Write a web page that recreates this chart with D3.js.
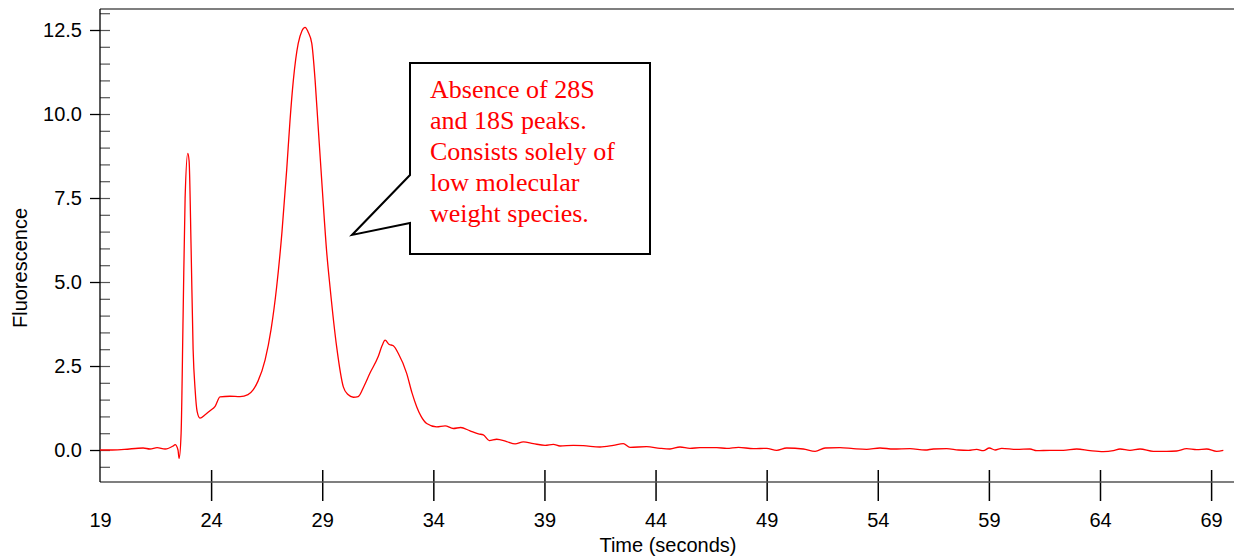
<!DOCTYPE html>
<html>
<head>
<meta charset="utf-8">
<script src="https://cdn.jsdelivr.net/npm/d3@7"></script>
<style>
    body { margin: 0; background: #fff; }
    svg { display: block; }
    .tick text { font-family: "Liberation Sans", Arial, sans-serif; font-size: 20px; fill: #000; }
    .axis-title { font-family: "Liberation Sans", Arial, sans-serif; font-size: 20px; fill: #000; }
    .note { font-family: "Liberation Serif", "Times New Roman", serif; font-size: 26px; fill: #ff0000; }
</style>
</head>
<body>
<div id="chart"></div>
<script>
// electropherogram trace
var time = [19.0, 19.45, 20.1, 20.94, 21.25, 21.57, 21.93, 22.29, 22.38, 22.51, 22.56, 22.65, 22.74, 22.83, 22.95, 23.01, 23.1, 23.19, 23.28, 23.37,
    23.5, 23.73, 23.95, 24.18, 24.4, 24.85, 25.3, 25.66, 25.89, 26.11, 26.43, 26.7, 26.95, 27.19, 27.4, 27.55, 27.7, 27.92, 28.09, 28.23,
    28.36, 28.53, 28.68, 28.8, 29.0, 29.2, 29.35, 29.65, 29.95, 30.16, 30.4, 30.62, 30.88, 31.15, 31.52, 31.69, 31.83, 32.0, 32.2, 32.42,
    32.8, 33.04, 33.25, 33.45, 33.7, 34.15, 34.53, 34.9, 35.23, 35.65, 36.03, 36.25, 36.52, 36.85, 37.3, 37.68, 38.05, 38.5, 39.03, 39.4,
    39.7, 40.3, 40.75, 41.5, 42.1, 42.55, 42.85, 43.6, 44.2, 44.65, 45.1, 45.55, 46.0, 46.75, 47.2, 47.73, 48.4, 49.0, 49.45, 49.9,
    50.65, 51.18, 51.63, 52.3, 52.9, 53.5, 54.1, 54.7, 55.45, 56.13, 56.5, 57.1, 57.63, 58.08, 58.45, 58.75, 59.02, 59.28, 59.58, 60.25,
    60.85, 61.15, 61.75, 62.35, 62.95, 63.55, 64.15, 64.6, 64.9, 65.35, 65.8, 66.4, 67.0, 67.45, 67.9, 68.35, 68.8, 69.25, 69.55];
var fluorescence = [0.0, 0.0, 0.02, 0.06, 0.03, 0.07, 0.03, 0.12, 0.16, 0.0, -0.25, 0.5, 4.0, 7.5, 8.83, 8.6, 6.0, 3.0, 1.8, 1.15,
    0.95, 1.05, 1.17, 1.3, 1.58, 1.6, 1.59, 1.65, 1.79, 2.05, 2.68, 3.6, 4.86, 6.5, 8.33, 9.8, 11.0, 12.1, 12.48, 12.58,
    12.45, 12.1, 11.0, 9.8, 7.8, 5.9, 4.86, 3.07, 1.88, 1.65, 1.57, 1.59, 1.9, 2.29, 2.78, 3.1, 3.27, 3.15, 3.1, 2.88,
    2.28, 1.7, 1.29, 1.0, 0.79, 0.69, 0.72, 0.64, 0.67, 0.57, 0.48, 0.45, 0.28, 0.32, 0.25, 0.18, 0.24, 0.19, 0.14, 0.17,
    0.12, 0.14, 0.13, 0.09, 0.14, 0.19, 0.08, 0.1, 0.05, 0.03, 0.09, 0.05, 0.07, 0.07, 0.05, 0.08, 0.04, 0.05, -0.01, 0.06,
    0.03, -0.04, 0.06, 0.07, 0.04, 0.02, 0.06, 0.03, 0.04, 0.0, 0.03, 0.04, 0.0, -0.01, 0.02, -0.02, 0.06, 0.0, 0.05, 0.02,
    0.03, -0.02, -0.01, -0.01, 0.03, -0.02, -0.05, -0.02, 0.03, -0.01, 0.03, -0.04, -0.04, -0.03, 0.04, 0.01, 0.03, -0.04, -0.01];

var xTicks = [19, 24, 29, 34, 39, 44, 49, 54, 59, 64, 69];
var yTicks = [0, 2.5, 5, 7.5, 10, 12.5];
var yMinor = d3.range(-0.5, 13.01, 0.5);

var noteLines = ["Absence of 28S", "and 18S peaks.", "Consists solely of", "low molecular", "weight species."];
var noteAnchor = [30.34, 6.4];   // where the callout points (time, fluorescence)

var width = 1234, height = 557;
var margin = {top: 9, right: 0, bottom: 75, left: 100};

var svg = d3.select("#chart").append("svg")
    .attr("width", width)
    .attr("height", height);

var x = d3.scaleLinear().domain([19, 70.03]).range([margin.left, width - margin.right]);
var y = d3.scaleLinear().domain([-0.952, 13.125]).range([height - margin.bottom, margin.top]);

var x0 = margin.left, yb = height - margin.bottom;

// y axis: labelled ticks sticking out, minor ticks inside
svg.append("g")
    .attr("transform", "translate(" + x0 + ",0)")
    .call(d3.axisLeft(y).tickValues(yTicks).tickFormat(d3.format(".1f")).tickSize(10).tickPadding(8))
    .call(function(g){ g.select(".domain").remove(); g.selectAll(".tick line").attr("stroke", "#000").attr("stroke-width", 1.3); });

svg.append("g")
    .attr("transform", "translate(" + x0 + ",0)")
    .call(d3.axisRight(y).tickValues(yMinor).tickFormat("").tickSize(10))
    .call(function(g){ g.select(".domain").remove(); g.selectAll(".tick line").attr("stroke", "#555").attr("stroke-width", 1.2); });

// x axis: ticks cross the line
svg.append("g")
    .attr("transform", "translate(0," + yb + ")")
    .call(d3.axisBottom(x).tickValues(xTicks).tickSize(19).tickPadding(12))
    .call(function(g){
        g.select(".domain").remove();
        g.selectAll(".tick line").attr("stroke", "#000").attr("stroke-width", 1.5)
            .filter(function(d){ return d === 19; }).remove();
    });

svg.append("g")
    .attr("transform", "translate(0," + yb + ")")
    .call(d3.axisTop(x).tickValues(xTicks.slice(1)).tickFormat("").tickSize(12))
    .call(function(g){ g.select(".domain").remove(); g.selectAll(".tick line").attr("stroke", "#000").attr("stroke-width", 1.5); });

// frame lines
svg.append("line").attr("x1", x0).attr("x2", width).attr("y1", yb).attr("y2", yb)
    .attr("stroke", "#555").attr("stroke-width", 1.3);
svg.append("line").attr("x1", x0).attr("x2", width).attr("y1", margin.top).attr("y2", margin.top)
    .attr("stroke", "#555").attr("stroke-width", 1.3);
svg.append("line").attr("x1", x0).attr("x2", x0).attr("y1", margin.top).attr("y2", yb)
    .attr("stroke", "#000").attr("stroke-width", 1.3);

// axis titles
svg.append("text").attr("class", "axis-title")
    .attr("x", 668).attr("y", 552).attr("text-anchor", "middle")
    .text("Time (seconds)");
svg.append("text").attr("class", "axis-title")
    .attr("transform", "translate(27,268) rotate(-90)").attr("text-anchor", "middle")
    .text("Fluorescence");

// trace
var line = d3.line()
    .x(function(d, i){ return x(time[i]); })
    .y(function(d){ return y(d); })
    .curve(d3.curveMonotoneX);

svg.append("path")
    .attr("d", line(fluorescence))
    .attr("fill", "none")
    .attr("stroke", "#ff0000")
    .attr("stroke-width", 1.3);

// callout box
var bx = 410, by = 63, bw = 240, bh = 191;
var tip = [x(noteAnchor[0]), y(noteAnchor[1])];
svg.append("path")
    .attr("d", "M" + bx + "," + by + "H" + (bx + bw) + "V" + (by + bh) + "H" + bx +
        "V" + 223 + "L" + tip[0] + "," + tip[1] + "L" + bx + "," + 175 + "Z")
    .attr("fill", "#fff")
    .attr("stroke", "#000")
    .attr("stroke-width", 2);

svg.append("g").selectAll("text")
    .data(noteLines)
    .join("text")
    .attr("class", "note")
    .attr("x", 430)
    .attr("y", function(d, i){ return 98 + i * 31; })
    .text(function(d){ return d; });
</script>
</body>
</html>
